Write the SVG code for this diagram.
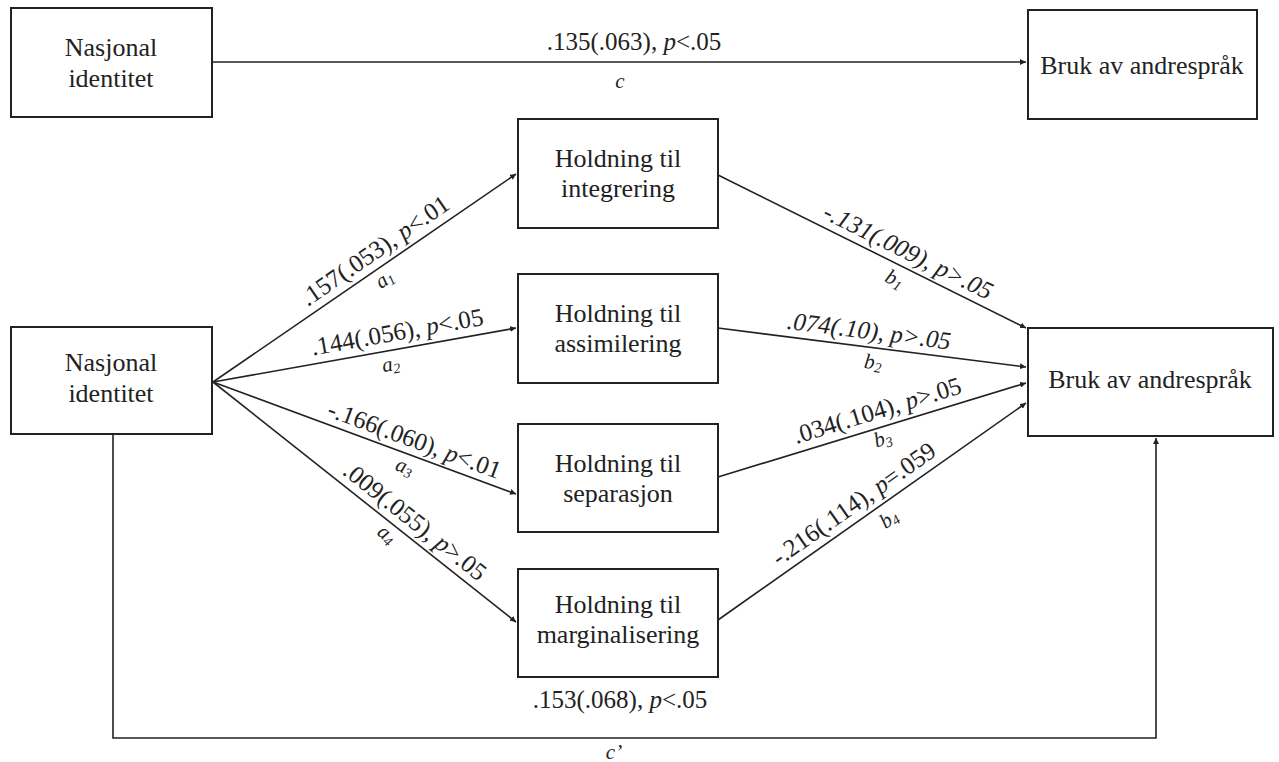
<svg xmlns="http://www.w3.org/2000/svg" width="1279" height="762" viewBox="0 0 1279 762" font-family="Liberation Serif, Times New Roman, DejaVu Serif, serif">
<style>
.box{fill:#fff;stroke:#222;stroke-width:2}
text{fill:#222;text-anchor:middle}
.t{font-size:26px}
.l{font-size:25px}
.s{font-size:21px;font-style:italic}
.i{font-style:italic}
.sub{font-size:14px}
.c{fill:none;stroke:#222;stroke-width:1.6}
</style>
<defs>
<marker id="ah" viewBox="0 0 10 10" refX="10" refY="5" markerWidth="6" markerHeight="6" markerUnits="userSpaceOnUse" orient="auto">
<path d="M0,0 L10,5 L0,10 z" fill="#222"/>
</marker>
</defs>
<rect width="1279" height="762" fill="#fff"/>
<g id="connectors">
<line class="c" x1="212" y1="62" x2="1026" y2="62" marker-end="url(#ah)"/>
<path class="c" d="M113,434 V738 H1156 V438" marker-end="url(#ah)"/>
<line class="c" x1="213" y1="382" x2="516" y2="174" marker-end="url(#ah)"/>
<line class="c" x1="213" y1="382" x2="516" y2="328" marker-end="url(#ah)"/>
<line class="c" x1="213" y1="382" x2="516" y2="494" marker-end="url(#ah)"/>
<line class="c" x1="213" y1="382" x2="516" y2="622" marker-end="url(#ah)"/>
<line class="c" x1="718" y1="175" x2="1026" y2="328" marker-end="url(#ah)"/>
<line class="c" x1="718" y1="328" x2="1026" y2="367" marker-end="url(#ah)"/>
<line class="c" x1="718" y1="477" x2="1026" y2="383" marker-end="url(#ah)"/>
<line class="c" x1="718" y1="620" x2="1026" y2="403" marker-end="url(#ah)"/>
</g>
<g id="labels">
<text class="l" x="634" y="50">.135(.063), <tspan class="i">p</tspan>&lt;.05</text>
<text class="s" x="620" y="88">c</text>
<text class="l" x="620" y="708">.153(.068), <tspan class="i">p</tspan>&lt;.05</text>
<text class="s" x="614" y="759">c’</text>
<g transform="translate(384,264) rotate(-34.6)">
<text class="l" x="0" y="-8">.157(.053), <tspan class="i">p</tspan>&lt;.01</text>
<text class="s" x="-8" y="19">a<tspan class="sub" dy="3">1</tspan></text>
</g>
<g transform="translate(400,348) rotate(-10.2)">
<text class="l" x="0" y="-8">.144(.056), <tspan class="i">p</tspan>&lt;.05</text>
<text class="s" x="-12" y="21">a<tspan class="sub" dy="3">2</tspan></text>
</g>
<g transform="translate(409,455) rotate(20.3)">
<text class="l" x="0" y="-8">-.166(.060), <tspan class="i">p</tspan>&lt;.01</text>
<text class="s" x="0" y="19">a<tspan class="sub" dy="3">3</tspan></text>
</g>
<g transform="translate(405,534) rotate(38.4)">
<text class="l" x="0" y="-8">.009(.055), <tspan class="i">p</tspan>&gt;.05</text>
<text class="s" x="-14" y="18">a<tspan class="sub" dy="3">4</tspan></text>
</g>
<g transform="translate(901,266) rotate(26.4)">
<text class="l i" x="0" y="-8">-.131(.009), p&gt;.05</text>
<text class="s" x="0" y="21">b<tspan class="sub" dy="3">1</tspan></text>
</g>
<g transform="translate(867,347) rotate(7.26)">
<text class="l i" x="0" y="-8">.074(.10), p&gt;.05</text>
<text class="s" x="8" y="21">b<tspan class="sub" dy="3">2</tspan></text>
</g>
<g transform="translate(882,426) rotate(-17.1)">
<text class="l" x="0" y="-8">.034(.104), <tspan class="i">p</tspan>&gt;.05</text>
<text class="s" x="-3" y="19">b<tspan class="sub" dy="3">3</tspan></text>
</g>
<g transform="translate(863,517) rotate(-35.2)">
<text class="l" x="0" y="-8">-.216(.114), <tspan class="i">p</tspan>=.059</text>
<text class="s" x="20" y="23">b<tspan class="sub" dy="3">4</tspan></text>
</g>
</g>
<g id="n-nasjonal-top">
<rect class="box" x="11" y="8" width="201" height="109"/>
<text class="t" x="111" y="56">Nasjonal</text>
<text class="t" x="111" y="87">identitet</text>
</g>
<g id="n-bruk-top">
<rect class="box" x="1028" y="10" width="229" height="109"/>
<text class="t" x="1142" y="74">Bruk av andrespråk</text>
</g>
<g id="n-integrering">
<rect class="box" x="518" y="119" width="200" height="109"/>
<text class="t" x="618" y="167">Holdning til</text>
<text class="t" x="618" y="197">integrering</text>
</g>
<g id="n-assimilering">
<rect class="box" x="518" y="274" width="200" height="109"/>
<text class="t" x="618" y="322">Holdning til</text>
<text class="t" x="618" y="352">assimilering</text>
</g>
<g id="n-separasjon">
<rect class="box" x="518" y="424" width="200" height="108"/>
<text class="t" x="618" y="472">Holdning til</text>
<text class="t" x="618" y="502">separasjon</text>
</g>
<g id="n-marginalisering">
<rect class="box" x="518" y="569" width="200" height="108"/>
<text class="t" x="618" y="613">Holdning til</text>
<text class="t" x="618" y="643">marginalisering</text>
</g>
<g id="n-nasjonal-mid">
<rect class="box" x="11" y="327" width="201" height="107"/>
<text class="t" x="111" y="371">Nasjonal</text>
<text class="t" x="111" y="402">identitet</text>
</g>
<g id="n-bruk-mid">
<rect class="box" x="1028" y="328" width="245" height="108"/>
<text class="t" x="1150" y="388">Bruk av andrespråk</text>
</g>
</svg>
